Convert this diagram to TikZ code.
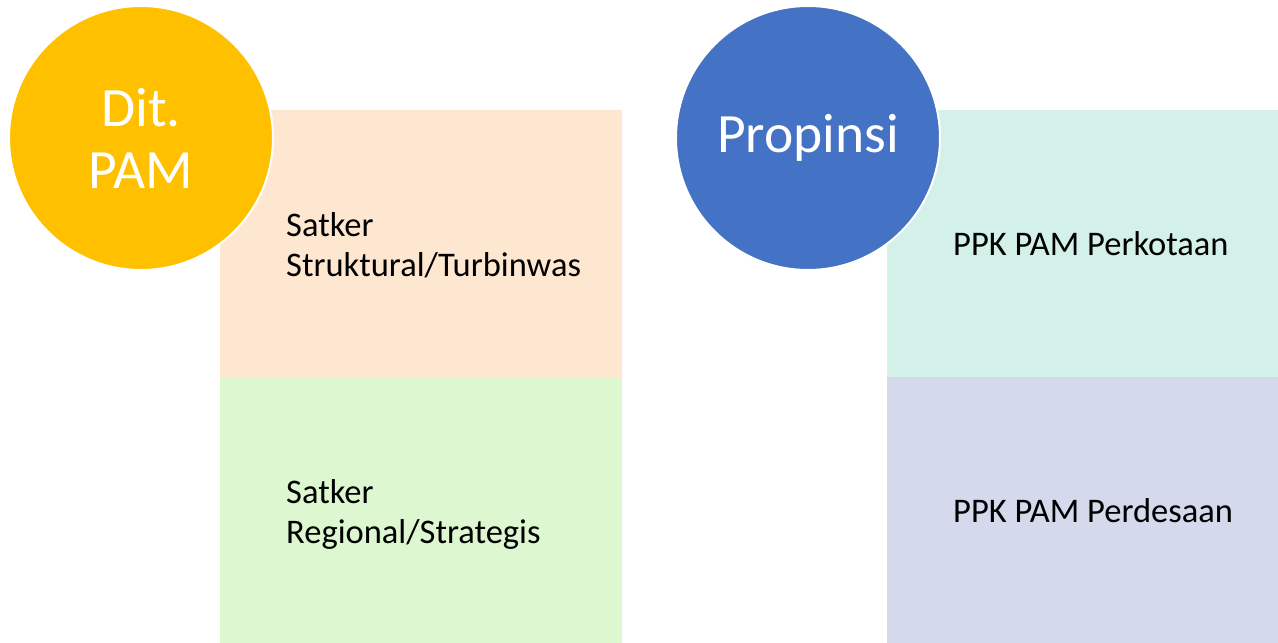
\documentclass[tikz,border=0pt]{standalone}
\usepackage{fontspec}
\setmainfont{Carlito}
\definecolor{gold}{HTML}{FFC000}
\definecolor{royal}{HTML}{4472C4}
\definecolor{peach}{HTML}{FDE7D0}
\definecolor{mint}{HTML}{DDF8D0}
\definecolor{aqua}{HTML}{D3F1E8}
\definecolor{lilac}{HTML}{D4D9EC}
\tikzset{
  unitlabel/.style={anchor=west, align=left, inner sep=0, text=black, font=\fontsize{34.5}{40}\selectfont},
  headlabel/.style={align=center, text=white, font=\fontsize{55.5}{62}\selectfont}
}

\begin{document}
\begin{tikzpicture}[x=1pt, y=1pt]
			%%%%% FRAME %%%%%
			\useasboundingbox (0, 0) rectangle (1278, 643);
			
			%%%%% LEFT %%%%%
			\fill[peach] (220, 266) rectangle (622, 533);
			\fill[mint] (220, 0) rectangle (622, 266);
			\draw[white, line width=2, fill=gold] (141, 505) circle (132);
			\node[headlabel] (ditpam) at (141, 505) {Dit.\\PAM};
			\node[unitlabel] (struktural) at (286, 398) {Satker\\Struktural/Turbinwas};
			\node[unitlabel] (regional) at (286, 129) {Satker\\Regional/Strategis};
			
			%%%%% RIGHT %%%%%
			\fill[aqua] (887, 266) rectangle (1278, 533);
			\fill[lilac] (887, 0) rectangle (1278, 266);
			\draw[white, line width=2, fill=royal] (808, 505) circle (132);
			\node[headlabel] (propinsi) at (808, 505) {Propinsi};
			\node[unitlabel] (perkotaan) at (953, 399) {PPK PAM Perkotaan};
			\node[unitlabel] (perdesaan) at (953, 132) {PPK PAM Perdesaan};
\end{tikzpicture}
\end{document}
